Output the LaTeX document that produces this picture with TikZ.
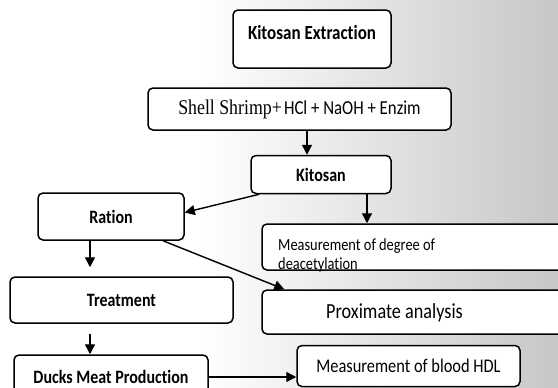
\documentclass[tikz,border=0pt]{standalone}
\usepackage{fontspec}
\setmainfont{Carlito}[Ligatures=NoCommon]
\newfontfamily\shellfont{Liberation Serif}
\usetikzlibrary{arrows.meta}
\newcommand{\tallt}[1]{\scalebox{1}[1.18]{#1}}
\tikzset{
  box/.style={draw,line width=1.5pt,rounded corners=5pt,fill=white,inner sep=0pt},
  arr/.style={line width=1.4pt,-{Triangle[length=10pt,width=10pt]}},
  bold/.style={font=\fontsize{16}{19}\selectfont\bfseries},
  plain/.style={font=\fontsize{17}{20}\selectfont}
}
\begin{document}
\begin{tikzpicture}[x=1pt,y=-1pt]
\useasboundingbox (0,0) rectangle (558,388);
\clip (0,0) rectangle (558,388);
% background
\fill[white] (0,0) rectangle (200,388);
\shade[left color=white,right color=black!22] (200,0) rectangle (558,388);
% boxes
\node[box,bold,font=\fontsize{17}{20}\selectfont\bfseries,minimum width=158,minimum height=58,text height=12pt,text depth=12pt] (extr) at (312,39) {\tallt{Kitosan Extraction}};
\node[box,minimum width=303,minimum height=42] (shell) at (299.5,109)
  {\tallt{{\shellfont\fontsize{17.8}{20}\selectfont Shell Shrimp+} {\fontsize{16.8}{20}\selectfont HCl + NaOH + Enzim}}};
\node[box,bold,minimum width=140,minimum height=38] (kit) at (321,174.5) {\tallt{Kitosan}};
\node[box,bold,minimum width=146,minimum height=47] (ration) at (111,216.5) {\tallt{Ration}};
\node[box,minimum width=340,minimum height=46] (deg) at (432,247) {};
\node[anchor=north west,align=left,inner sep=0pt,font=\fontsize{14.4}{20}\selectfont] (degtxt) at (278,238) {\tallt{Measurement of degree of}\\\tallt{deacetylation}};
\node[box,bold,minimum width=223,minimum height=46] (treat) at (121.5,300) {\tallt{Treatment}};
\node[box,minimum width=340,minimum height=44] (prox) at (432,312) {};
\node[font=\fontsize{18.2}{21}\selectfont] (proxtxt) at (394.5,313) {\tallt{Proximate analysis}};
\node[box,bold,minimum width=194,minimum height=44] (ducks) at (111,377) {\tallt{Ducks Meat Production}};
\node[box,font=\fontsize{16.4}{20}\selectfont,minimum width=223,minimum height=41] (hdl) at (408.5,366) {\tallt{Measurement of blood HDL}};
% arrows
\draw[arr] ([xshift=7.5]shell.south) -- ([xshift=7.5]shell.south |- kit.north);
\draw[arr] ([xshift=9]kit.south west) -- ([yshift=4]ration.east);
\draw[arr] ([xshift=46]kit.south) -- ([xshift=46]kit.south |- deg.north);
\draw[arr,shorten >=9pt] ([xshift=-21]ration.south) -- ([xshift=-21]ration.south |- treat.north);
\draw[arr] ([xshift=52]ration.south) -- ([xshift=23]prox.north west);
\draw[arr,shorten <=10pt] ([xshift=-31.5]treat.south) -- ([xshift=-31.5]treat.south |- ducks.north);
\draw[arr] (ducks.east) -- (ducks.east -| hdl.west);
\end{tikzpicture}
\end{document}
